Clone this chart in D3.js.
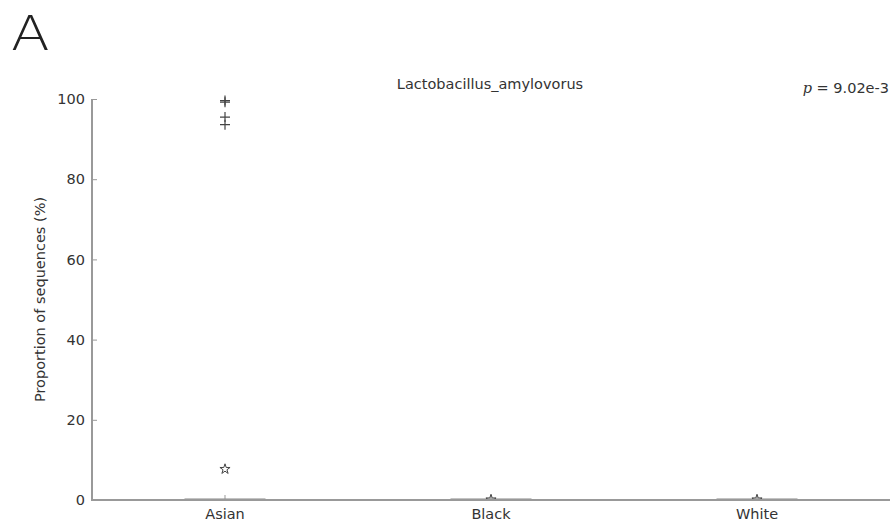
<!DOCTYPE html>
<html>
<head>
<meta charset="utf-8">
<script src="https://cdn.jsdelivr.net/npm/d3@7"></script>
<style>
  body { margin: 0; background: #fff; }
  svg { display: block; font-family: "DejaVu Sans", sans-serif; }
</style>
</head>
<body>
<div id="chart"></div>
<script>
var width = 895, height = 529;

// data
var groups = ["Asian", "Black", "White"];
var q1 = [0, 0, 0];
var median = [0, 0, 0];
var q3 = [0, 0, 0];
var whiskerLow = [0, 0, 0];
var whiskerHigh = [0, 0, 0];
var means = [7.7, 0.1, 0.1];
var outliers = [[99.6, 99.2, 95.5, 93.6], [], []];
var yTicks = [0, 20, 40, 60, 80, 100];
var title = "Lactobacillus_amylovorus";
var pValue = "9.02e-3";

var margin = {top: 99, right: 5, bottom: 29, left: 92};
var fontSize = "14.5px";

var svg = d3.select("#chart").append("svg")
    .attr("width", width)
    .attr("height", height);

var x = d3.scaleBand()
    .domain(groups)
    .range([margin.left, width - margin.right]);

var y = d3.scaleLinear()
    .domain([0, 100])
    .range([height - margin.bottom, margin.top]);

var axisColor = "#999";
var textColor = "#333";

// clip so marks sitting on zero are cut by the axis
svg.append("clipPath").attr("id", "plotclip")
    .append("rect")
    .attr("x", margin.left).attr("y", 0)
    .attr("width", width - margin.left)
    .attr("height", y(0));

// y axis, ticks pointing inward
var yAxis = svg.append("g")
    .attr("transform", "translate(" + margin.left + ",0)")
    .call(d3.axisRight(y).tickValues(yTicks).tickSize(5).tickFormat(d3.format("d")));
yAxis.select(".domain").remove();
yAxis.selectAll(".tick line").attr("stroke", axisColor);
yAxis.selectAll(".tick text")
    .attr("x", -7)
    .attr("text-anchor", "end")
    .attr("fill", textColor)
    .style("font-size", fontSize)
    .style("font-family", "DejaVu Sans, sans-serif");

// x axis, ticks pointing inward
var xAxis = svg.append("g")
    .attr("transform", "translate(0," + y(0) + ")")
    .call(d3.axisTop(x).tickSize(5));
xAxis.select(".domain").remove();
xAxis.selectAll(".tick line").attr("stroke", axisColor);
xAxis.selectAll(".tick text")
    .attr("y", 9)
    .attr("dy", "0.71em")
    .attr("fill", textColor)
    .style("font-size", fontSize)
    .style("font-family", "DejaVu Sans, sans-serif");

var marks = svg.append("g").attr("clip-path", "url(#plotclip)");

// boxes (collapsed at zero)
var boxW = 80;
groups.forEach(function (g, i) {
    var cx = x(g) + x.bandwidth() / 2;
    marks.append("line")
        .attr("x1", cx).attr("x2", cx)
        .attr("y1", y(whiskerLow[i])).attr("y2", y(whiskerHigh[i]))
        .attr("stroke", "#777");
    marks.append("rect")
        .attr("x", cx - boxW / 2)
        .attr("y", y(q3[i]) - 1)
        .attr("width", boxW)
        .attr("height", Math.max(1, y(q1[i]) - y(q3[i])))
        .attr("fill", "none")
        .attr("stroke", "#888")
        .attr("stroke-width", 1);

    // outliers as plus marks
    outliers[i].forEach(function (v) {
        var py = y(v);
        marks.append("path")
            .attr("d", "M" + (cx - 5) + "," + py + "H" + (cx + 5) + "M" + cx + "," + (py - 5) + "V" + (py + 5))
            .attr("stroke", "#444")
            .attr("stroke-width", 1.2)
            .attr("fill", "none");
    });

    // mean as star
    marks.append("path")
        .attr("transform", "translate(" + cx + "," + y(means[i]) + ")")
        .attr("d", d3.symbol().type(d3.symbolStar).size(32)())
        .attr("fill", "none")
        .attr("stroke", "#444")
        .attr("stroke-width", 1);
});

// spines
svg.append("line")
    .attr("x1", margin.left).attr("x2", margin.left)
    .attr("y1", y(100)).attr("y2", y(0) + 1)
    .attr("stroke", axisColor).attr("stroke-width", 2);
svg.append("line")
    .attr("x1", margin.left).attr("x2", width - margin.right)
    .attr("y1", y(0)).attr("y2", y(0))
    .attr("stroke", axisColor).attr("stroke-width", 2);

// y label
svg.append("text")
    .attr("transform", "translate(45," + (y(50)) + ") rotate(-90)")
    .attr("text-anchor", "middle")
    .attr("fill", textColor)
    .style("font-size", fontSize)
    .text("Proportion of sequences (%)");

// title
svg.append("text")
    .attr("x", 490)
    .attr("y", 89)
    .attr("text-anchor", "middle")
    .attr("fill", textColor)
    .style("font-size", fontSize)
    .text(title);

// p value
var pText = svg.append("text")
    .attr("x", 889)
    .attr("y", 93)
    .attr("text-anchor", "end")
    .attr("fill", textColor)
    .style("font-size", fontSize);
pText.append("tspan")
    .style("font-family", "DejaVu Serif, serif")
    .style("font-style", "italic")
    .text("p");
pText.append("tspan").text(" = " + pValue);

// panel letter
svg.append("text")
    .attr("transform", "translate(11,50) scale(1.18,1)")
    .attr("fill", "#222")
    .style("font-family", "DejaVu Sans, sans-serif")
    .style("font-weight", 200)
    .style("font-size", "48px")
    .text("A");
</script>
</body>
</html>
